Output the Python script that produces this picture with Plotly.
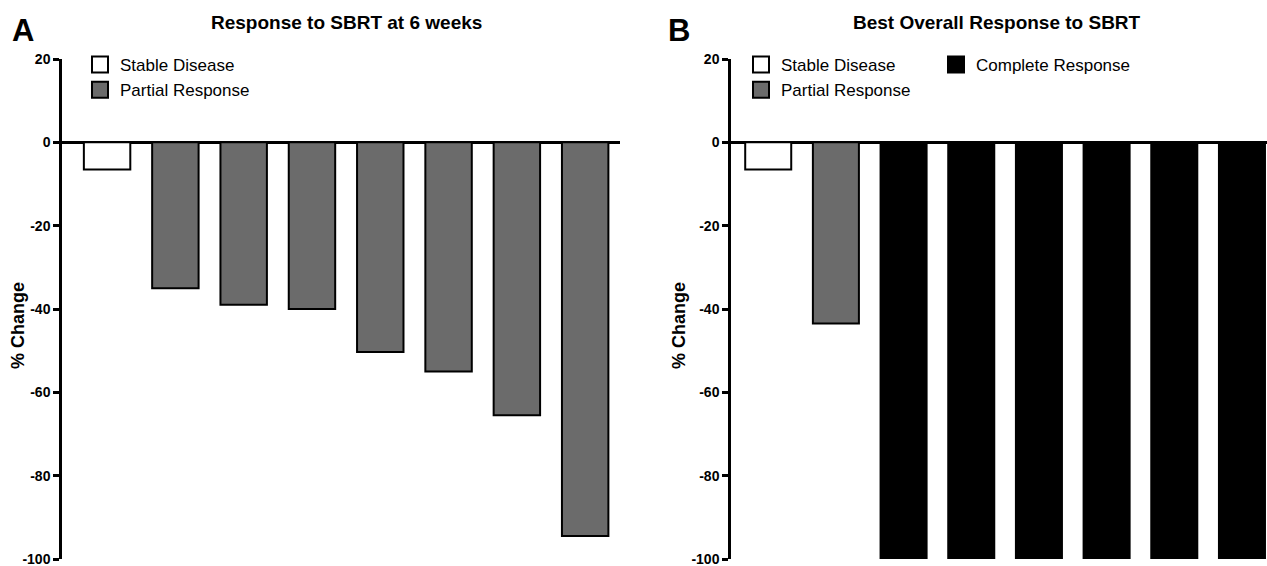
import plotly.graph_objects as go

# ---- data ----
patients = [1, 2, 3, 4, 5, 6, 7, 8]
resp6w_cat = ["Stable Disease", "Partial Response", "Partial Response", "Partial Response",
              "Partial Response", "Partial Response", "Partial Response", "Partial Response"]
resp6w_val = [-6.5, -35, -39, -40, -50.3, -55, -65.5, -94.5]
best_cat = ["Stable Disease", "Partial Response", "Complete Response", "Complete Response",
            "Complete Response", "Complete Response", "Complete Response", "Complete Response"]
best_val = [-6.5, -43.5, -100, -100, -100, -100, -100, -100]
yticks = [20, 0, -20, -40, -60, -80, -100]
yticklabels = ["20", "0", "-20", "-40", "-60", "-80", "-100"]
titles = ["Response to SBRT at 6 weeks", "Best Overall Response to SBRT"]
panel_letters = ["A", "B"]
ytitle = "% Change"

colors = {"Stable Disease": "white", "Partial Response": "#6b6b6b", "Complete Response": "black"}
FONT = "Liberation Sans, Arial, Helvetica, sans-serif"

fig = go.Figure()

def add_panel(vals, cats, xa, ya, legends):
    fig.add_trace(go.Bar(
        x=patients, y=vals, xaxis=xa, yaxis=ya, showlegend=False,
        marker=dict(color=[colors[c] for c in cats], line=dict(color="black", width=2)),
        width=0.68,
    ))
    for name, lg in legends:
        fig.add_trace(go.Scatter(
            x=[None], y=[None], xaxis=xa, yaxis=ya, mode="markers", name=name, legend=lg,
            marker=dict(symbol="square", size=16, color=colors[name],
                        line=dict(color="black", width=2)),
        ))

add_panel(resp6w_val, resp6w_cat, "x", "y",
          [("Stable Disease", "legend"), ("Partial Response", "legend")])
add_panel(best_val, best_cat, "x2", "y2",
          [("Stable Disease", "legend2"), ("Partial Response", "legend2"),
           ("Complete Response", "legend3")])

ydom = [7 / 566, 507 / 566]
yax = dict(range=[-100, 20], tickvals=yticks, ticktext=yticklabels, ticks="outside",
           ticklen=6, tickwidth=2.5, automargin=False, ticklabeloverflow="allow",
           tickcolor="black", showline=True, linewidth=2.5, linecolor="black",
           showgrid=False, zeroline=True, zerolinecolor="black", zerolinewidth=2.5,
           tickfont=dict(family=FONT, size=14, color="black", weight="bold"),
           domain=ydom)
xax = dict(showline=False, showgrid=False, zeroline=False, showticklabels=False, ticks="",
           automargin=False)

legfont = dict(family=FONT, size=17, color="black")
leg_common = dict(font=legfont, bgcolor="rgba(0,0,0,0)", itemsizing="trace",
                  tracegroupgap=0, xanchor="left", yanchor="top", itemwidth=30)

def txt(text, x, y, size, xanchor="center", yanchor="middle", angle=0):
    return dict(text=text, x=x / 1267, y=1 - y / 566, xref="paper", yref="paper",
                xanchor=xanchor, yanchor=yanchor, showarrow=False, textangle=angle,
                font=dict(family=FONT, size=size, color="black", weight="bold"))

fig.update_layout(
    width=1267, height=566,
    margin=dict(l=0, r=0, t=0, b=0),
    paper_bgcolor="white", plot_bgcolor="white",
    xaxis=dict(xax, domain=[62 / 1267, 620 / 1267], range=[0.34, 8.51]),
    xaxis2=dict(xax, domain=[731 / 1267, 1.0], range=[0.45, 8.37]),
    yaxis=dict(yax, anchor="x"),
    yaxis2=dict(yax, anchor="x2"),
    legend=dict(leg_common, x=80 / 1267, y=1 - 47 / 566),
    legend2=dict(leg_common, x=741 / 1267, y=1 - 47 / 566),
    legend3=dict(leg_common, x=936 / 1267, y=1 - 47 / 566),
    annotations=[
        txt(panel_letters[0], 10, 11, 31, xanchor="left", yanchor="top"),
        txt(panel_letters[1], 666, 11, 31, xanchor="left", yanchor="top"),
        txt(titles[0], 346, 22, 19),
        txt(titles[1], 997, 22, 19),
        txt(ytitle, 18, 326, 18, angle=-90),
        txt(ytitle, 679, 326, 18, angle=-90),
    ],
)

fig.write_html("out.html", config={"displayModeBar": False},
               post_script="document.body.style.margin='0';")
